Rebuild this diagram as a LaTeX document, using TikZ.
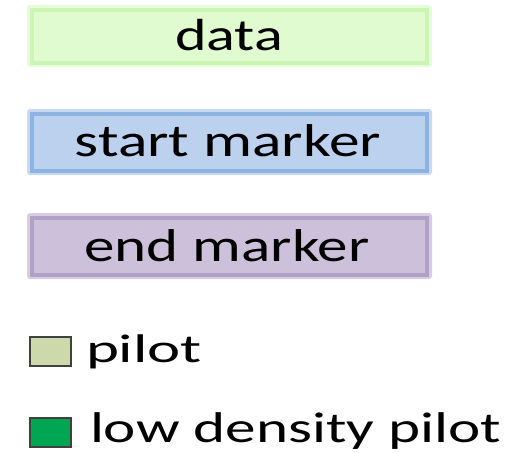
\documentclass[tikz,border=0pt]{standalone}
\usepackage{fontspec}
\setmainfont{Carlito}
\usepackage{graphicx}
\definecolor{dataFill}{RGB}{224,251,208}
\definecolor{dataLine}{RGB}{204,245,180}
\definecolor{dataHalo}{RGB}{230,251,218}
\definecolor{startFill}{RGB}{187,209,238}
\definecolor{startLine}{RGB}{141,179,226}
\definecolor{startHalo}{RGB}{200,218,242}
\definecolor{endFill}{RGB}{204,192,218}
\definecolor{endLine}{RGB}{178,161,199}
\definecolor{endHalo}{RGB}{214,205,227}
\definecolor{pilotFill}{RGB}{205,216,171}
\definecolor{ldpFill}{RGB}{0,166,81}
\definecolor{sqLine}{RGB}{64,64,64}
\tikzset{
  halo/.style={fill=#1, draw=none, rounded corners=3pt},
  band/.style={fill=#1Fill, draw=#1Line, line width=4pt},
  sq/.style={draw=sqLine, line width=2pt},
  lbl/.style={inner sep=0pt, outer sep=0pt, text=black},
}
\newcommand{\fitw}[3]{\resizebox{#1pt}{\height}{\fontsize{#2}{#2}\selectfont #3}}
\begin{document}
\begin{tikzpicture}[x=1pt,y=-1pt]
\useasboundingbox (0,0) rectangle (531,453);
% data box
\fill[halo=dataHalo] (27,5) rectangle (432,67);
\draw[band=data] (32,9.5) rectangle (427,62.5);
\node[lbl, anchor=base] (data) at (229,50) {\fitw{108}{45}{data}};
% start marker box
\fill[halo=startHalo] (27,109) rectangle (432,175);
\draw[band=start] (32,113.5) rectangle (427,170.5);
\node[lbl, anchor=base] (start) at (228,156) {\fitw{306}{46}{start marker}};
% end marker box
\fill[halo=endHalo] (27,213) rectangle (432,279);
\draw[band=end] (32,217.5) rectangle (427,274.5);
\node[lbl, anchor=base] (end) at (227,261) {\fitw{285}{46}{end marker}};
% legend
\draw[sq, fill=pilotFill] (30,337) rectangle (71,366);
\node[lbl, anchor=base west] (pilot) at (86,362) {\fitw{116}{40}{pilot}};
\draw[sq, fill=ldpFill] (30,418) rectangle (71,447);
\node[lbl, anchor=base west] (ldp) at (90,442) {\fitw{411}{43}{low density pilot}};
\end{tikzpicture}
\end{document}
